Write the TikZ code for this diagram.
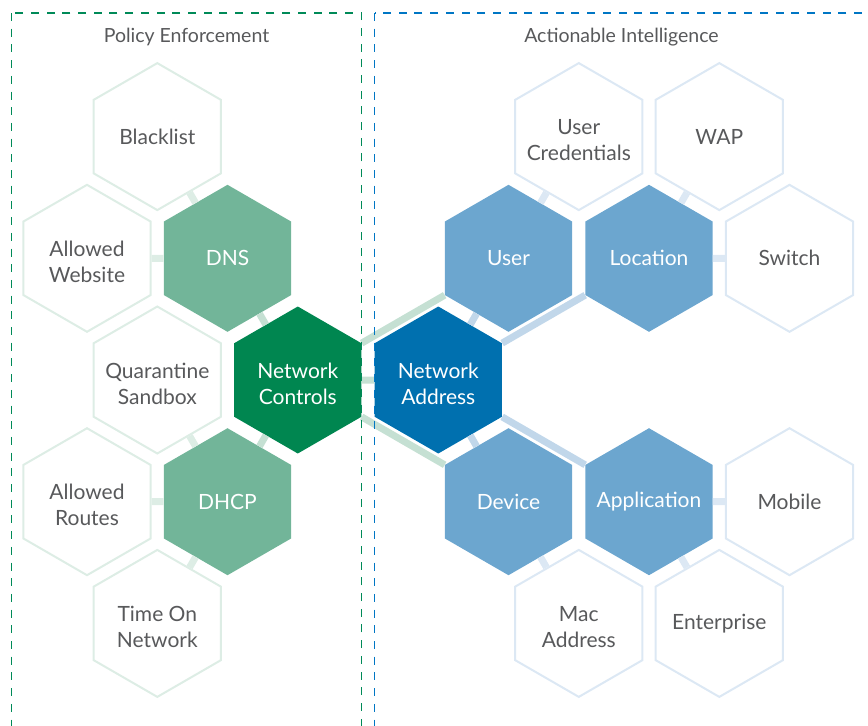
\documentclass[tikz,border=0pt]{standalone}
\usepackage{fontspec}
\setmainfont{Lato}
\usetikzlibrary{shapes.geometric}

\definecolor{ctrlgreen}{RGB}{0,134,80}
\definecolor{softgreen}{RGB}{114,181,153}
\definecolor{addrblue}{RGB}{0,112,175}
\definecolor{softblue}{RGB}{108,166,207}
\definecolor{rimgreen}{RGB}{221,237,229}
\definecolor{rimblue}{RGB}{220,232,244}
\definecolor{linkgreen}{RGB}{197,224,211}
\definecolor{linkblue}{RGB}{193,215,234}
\definecolor{labelgray}{RGB}{88,89,91}
\definecolor{framegreen}{RGB}{0,138,88}
\definecolor{frameblue}{RGB}{0,118,196}

\tikzset{
  hex/.style={regular polygon, regular polygon sides=6, shape border rotate=30,
    minimum size=147pt, inner sep=-20pt, align=center,
    font=\fontsize{21}{26}\selectfont},
  two/.style={text height=48pt, text depth=0pt},
  pol/.style={hex, draw=rimgreen, line width=2pt, fill=white, text=labelgray},
  intel/.style={hex, draw=rimblue, line width=2pt, fill=white, text=labelgray},
  title/.style={font=\fontsize{19.5}{23}\selectfont, text=labelgray},
  zone/.style={line width=1.4pt, dash pattern=on 8pt off 7.7pt}
}

\begin{document}
\begin{tikzpicture}[x=1pt, y=-1pt]
  \useasboundingbox (0,0) rectangle (868,726);
  \clip (0,0) rectangle (868,726);

  % policy side
  \node[pol] (blacklist) at (157.3,136.6) {Blacklist};
  \node[pol, two] (website) at (87,258.3) {Allowed\\Website};
  \node[hex, fill=softgreen, text=white] (dns) at (227.5,258.3) {DNS};
  \node[pol, two] (quarantine) at (157.3,380) {Quarantine\\Sandbox};
  \node[hex, two, fill=ctrlgreen, text=white] (controls) at (297.8,380) {Network\\Controls};
  \node[pol, two] (routes) at (87,501.7) {Allowed\\Routes};
  \node[hex, fill=softgreen, text=white] (dhcp) at (227.5,501.7) {DHCP};
  \node[pol, two] (timeon) at (157.3,623.4) {Time On\\Network};

  % intelligence side
  \node[intel, two] (credentials) at (578.8,136.6) {User\\Credentials};
  \node[intel] (wap) at (719.3,136.6) {WAP};
  \node[hex, fill=softblue, text=white] (user) at (508.5,258.3) {User};
  \node[hex, fill=softblue, text=white] (location) at (649,258.3) {Location};
  \node[intel] (switch) at (789.5,258.3) {Switch};
  \node[hex, two, fill=addrblue, text=white] (address) at (438.3,380) {Network\\Address};
  \node[hex, fill=softblue, text=white] (device) at (508.5,501.7) {Device};
  \node[hex, fill=softblue, text=white] (application) at (649,501.7) {Application};
  \node[intel] (mobile) at (789.5,501.7) {Mobile};
  \node[intel, two] (mac) at (578.8,623.4) {Mac\\Address};
  \node[intel] (enterprise) at (719.3,623.4) {Enterprise};

  \begin{scope}[line width=7pt]
    \draw[rimgreen] (blacklist) to (dns);
    \draw[rimgreen] (website) to (dns);
    \draw[rimgreen] (quarantine) to (dhcp);
    \draw[rimgreen] (routes) to (dhcp);
    \draw[rimgreen] (timeon) to (dhcp);
    \draw[linkgreen] (dns) to (controls);
    \draw[linkgreen] (dhcp) to (controls);
    \draw[linkgreen] (controls) to (address);
    \draw[linkgreen] (controls) to (user);
    \draw[linkgreen] (controls) to (device);
    \draw[linkblue] (address) to (user);
    \draw[linkblue] (address) to (device);
    \draw[linkblue] (address) to (location);
    \draw[linkblue] (address) to (application);
    \draw[rimblue] (user) to (credentials);
    \draw[rimblue] (location) to (wap);
    \draw[rimblue] (location) to (switch);
    \draw[rimblue] (device) to (mac);
    \draw[rimblue] (application) to (mobile);
    \draw[rimblue] (application) to (enterprise);
  \end{scope}

  \draw[zone, draw=framegreen] (11.5,13) rectangle (361.5,760);
  \draw[zone, draw=frameblue] (374.5,13) rectangle (868.2,760);
  \node[title] (poltitle) at (186.5,37) {Policy Enforcement};
  \node[title] (inteltitle) at (621.5,37) {Actionable Intelligence};
\end{tikzpicture}
\end{document}
